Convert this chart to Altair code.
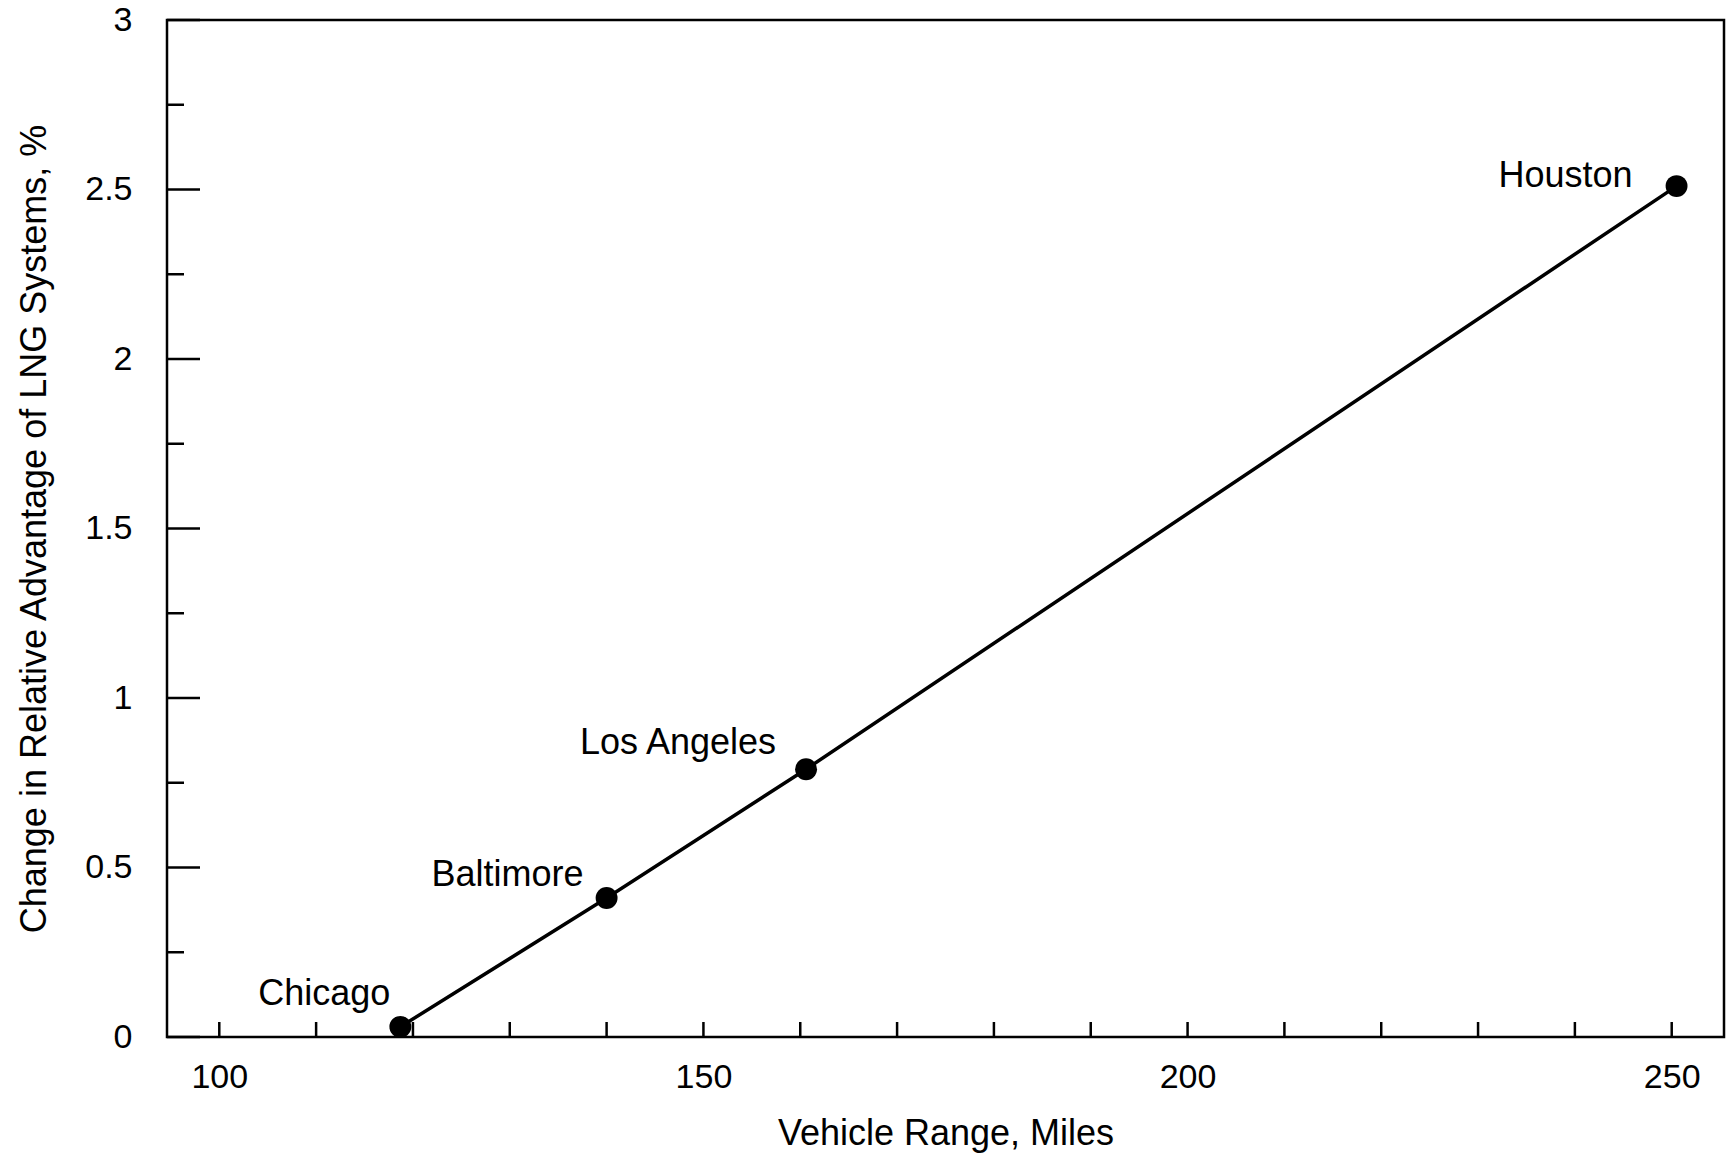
import altair as alt
import pandas as pd

# ---- data ----
cities = ["Chicago", "Baltimore", "Los Angeles", "Houston"]
vehicle_range = [118.7, 140.0, 160.6, 250.5]
change_pct = [0.03, 0.41, 0.79, 2.51]

x_tick_values = list(range(100, 251, 10))
x_label_values = [100, 150, 200, 250]
y_major_values = [0, 0.5, 1, 1.5, 2, 2.5, 3]
y_minor_values = [0.25, 0.75, 1.25, 1.75, 2.25, 2.75]

X_DOMAIN = [94.6, 255.4]
Y_DOMAIN = [0, 3]
W, H = 1557, 1017
FONT = "Liberation Sans"

df = pd.DataFrame({"city": cities, "range": vehicle_range, "change": change_pct})

x_scale = alt.Scale(domain=X_DOMAIN, nice=False, zero=False)
y_scale = alt.Scale(domain=Y_DOMAIN, nice=False, zero=False)

x_axis = alt.Axis(
    values=x_label_values, ticks=False, tickSize=0, domain=False, grid=False,
    labelFontSize=34, labelFont=FONT, labelColor="black", labelBaseline="alphabetic",
    labelPadding=50, labelFlush=False, labelOverlap=False,
    title="Vehicle Range, Miles", titleFont=FONT, titleFontSize=36,
    titleFontWeight="normal", titleColor="black", titleBaseline="alphabetic", titleY=107,
)
y_axis = alt.Axis(
    values=y_major_values, ticks=False, tickSize=0, domain=False, grid=False, format="~g",
    labelFontSize=34, labelFont=FONT, labelColor="black", labelBaseline="middle",
    labelPadding=35, labelFlush=False, labelOverlap=False,
    title="Change in Relative Advantage of LNG Systems, %", titleFont=FONT,
    titleFontSize=36, titleFontWeight="normal", titleColor="black",
    titleAngle=270, titleBaseline="alphabetic", titleX=-122,
)


def xenc(field):
    return alt.X(field, scale=x_scale, axis=x_axis)


def yenc(field):
    return alt.Y(field, scale=y_scale, axis=y_axis)


base = alt.Chart(df)

line = base.mark_line(color="black", strokeWidth=3.5).encode(
    x=xenc("range:Q"), y=yenc("change:Q"),
)

points = base.mark_circle(size=480, color="black", opacity=1).encode(
    x=xenc("range:Q"), y=yenc("change:Q"),
)

label_offsets = {
    "Chicago": (-10, -22),
    "Baltimore": (-23, -12),
    "Los Angeles": (-30, -15),
    "Houston": (-44, 1),
}
label_layers = []
for c in cities:
    dx, dy = label_offsets[c]
    label_layers.append(
        base.transform_filter(alt.datum.city == c)
        .mark_text(font=FONT, fontSize=36, color="black", align="right",
                   baseline="alphabetic", dx=dx, dy=dy)
        .encode(x=xenc("range:Q"), y=yenc("change:Q"), text="city:N")
    )

x_ticks = alt.Chart(pd.DataFrame({"t": x_tick_values})).mark_rule(
    color="black", strokeWidth=2.5
).encode(
    x=xenc("t:Q"),
    y=alt.value(H),
    y2=alt.value(H - 15),
)

y_major = alt.Chart(pd.DataFrame({"t": y_major_values})).mark_rule(
    color="black", strokeWidth=2.5
).encode(
    y=yenc("t:Q"),
    x=alt.value(0),
    x2=alt.value(33),
)

y_minor = alt.Chart(pd.DataFrame({"t": y_minor_values})).mark_rule(
    color="black", strokeWidth=2.5
).encode(
    y=yenc("t:Q"),
    x=alt.value(0),
    x2=alt.value(17),
)

chart = (
    alt.layer(line, points, *label_layers, x_ticks, y_major, y_minor)
    .properties(
        width=W,
        height=H,
        autosize=alt.AutoSizeParams(type="none"),
        padding={"left": 167, "top": 20, "right": 6, "bottom": 119},
        background="white",
    )
    .configure_view(stroke="black", strokeWidth=2.5)
)

chart.save("out.html", embed_options={"renderer": "svg", "actions": False})
